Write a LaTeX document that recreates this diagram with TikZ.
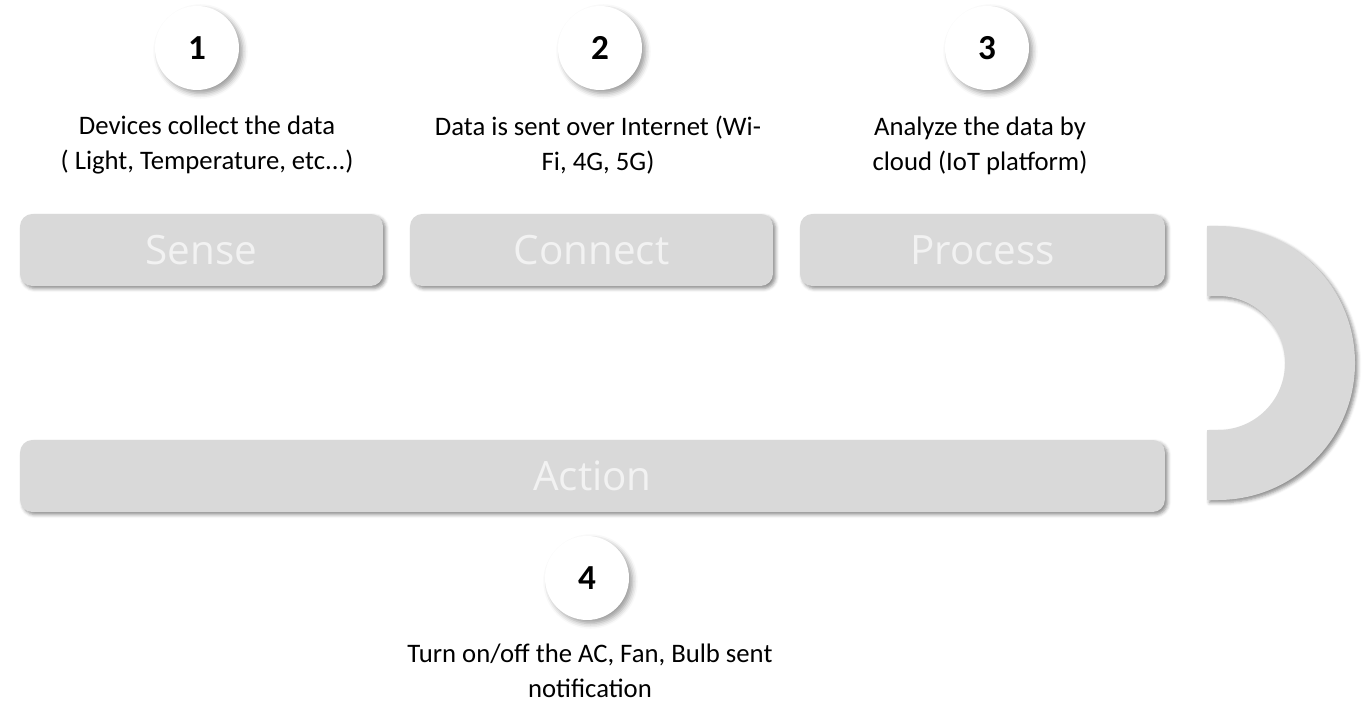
\documentclass[tikz,border=0pt]{standalone}
\usepackage{fontspec}
\setmainfont{Carlito}
\newfontfamily\boxfont{Open Sans}
\usepackage{tikz}
\usetikzlibrary{shadows.blur}
\definecolor{boxgray}{HTML}{D9D9D9}
\definecolor{boxtext}{HTML}{F2F2F2}

\begin{document}
\begin{tikzpicture}[x=0.02cm,y=0.02cm,
  stepbox/.style={rectangle,rounded corners=7pt,fill=boxgray,text=boxtext,
    minimum height=1.44cm,font=\boxfont\fontsize{23}{28}\selectfont,
    blur shadow={shadow xshift=1.5pt,shadow yshift=-1.5pt,shadow blur radius=2pt,shadow opacity=45}},
  numdot/.style={circle,fill=white,minimum size=1.68cm,inner sep=0pt,
    font=\bfseries\fontsize{20}{24}\selectfont,
    blur shadow={shadow xshift=2pt,shadow yshift=-2pt,shadow blur radius=3pt,shadow opacity=40}},
  caption/.style={align=center,font=\fontsize{15.2}{19.9}\selectfont}]
\useasboundingbox (0,0) rectangle (1371,704);
% numbers
\node[numdot] (N1) at (197,656) {1};
\node[numdot] (N2) at (600,656) {2};
\node[numdot] (N3) at (987,656) {3};
\node[numdot] (N4) at (587,126) {4};
% texts
\node[caption] (T1) at (207,558.5) {Devices collect the data\\( Light, Temperature, etc...)};
\node[caption] (T2) at (598,558.5) {Data is sent over Internet (Wi-\\Fi, 4G, 5G)};
\node[caption] (T3) at (980,558.5) {Analyze the data by\\cloud (IoT platform)};
\node[caption] (T4) at (590,33.5) {Turn on/off the AC, Fan, Bulb sent\\notification};
% steps
\node[stepbox,minimum width=7.26cm] (sense) at (201.5,454) {Sense};
\node[stepbox,minimum width=7.26cm] (connect) at (591.5,454) {Connect};
\node[stepbox,minimum width=7.3cm] (process) at (982.5,454) {Process};
\node[stepbox,minimum width=22.9cm] (action) at (592.5,228) {Action};
% return arc
\fill[boxgray,blur shadow={shadow xshift=1.5pt,shadow yshift=-1.5pt,shadow blur radius=2pt,shadow opacity=45}]
  (1207,478) -- (1218,478) arc[start angle=90,end angle=-90,radius=137]
  -- (1207,204) -- (1207,274) -- (1218,274)
  arc[start angle=-90,end angle=90,radius=67] -- (1207,408) -- cycle;
\end{tikzpicture}
\end{document}
